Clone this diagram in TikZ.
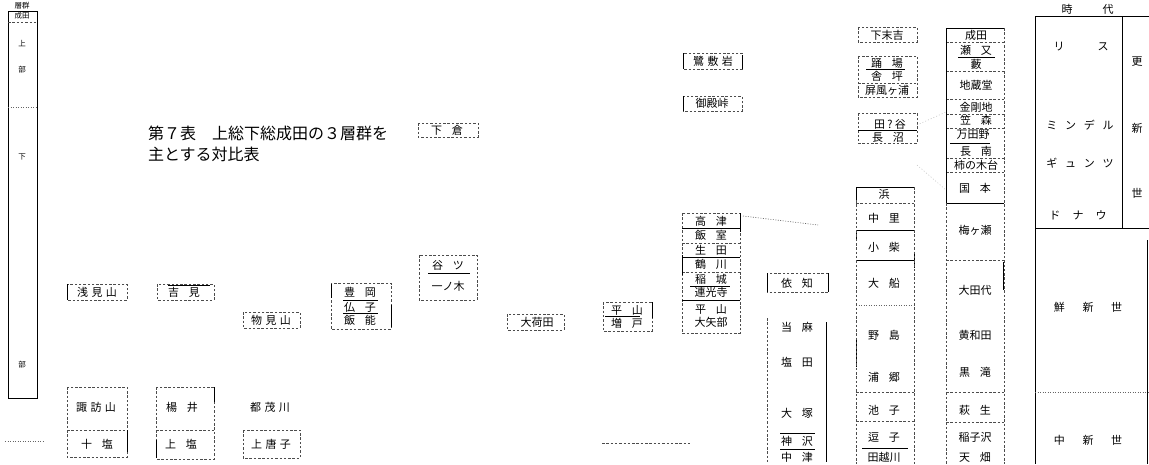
\documentclass[tikz,border=0pt]{standalone}
\usepackage{fontspec}
\setmainfont{Noto Sans CJK JP}
\newcommand{\gp}{\hspace{0.3em}}
\newcommand{\gw}{\hspace{0.9em}}
\tikzset{
  lab/.style={inner sep=0pt, font=\fontsize{11}{13}\selectfont},
  labs/.style={inner sep=0pt, font=\fontsize{7.5}{9}\selectfont},
  ttl/.style={inner sep=0pt, anchor=west, font=\fontsize{16}{19}\selectfont},
  db/.style={draw=black!70, dash pattern=on 2.5pt off 1.8pt, line width=0.6pt},
  dt/.style={draw=black!60, dash pattern=on 1pt off 1.5pt, line width=0.6pt},
  sl/.style={draw=black, line width=0.9pt},
  fnt/.style={draw=black!25, dash pattern=on 1pt off 2pt, line width=0.5pt},
}
\begin{document}
\begin{tikzpicture}[x=1pt,y=-1pt]
\useasboundingbox (0,0) rectangle (1149,464);
\fill[white] (0,0) rectangle (1149,464);
% ---------- left column ----------
\node[labs] (sg) at (22,6) {層群};
\draw[sl] (8,11) rectangle (37,398);
\node[labs] (nt) at (22,16) {成田};
\draw[db] (8,22) -- (37,22);
\node[labs] (u1) at (22,44) {上};
\node[labs] (u2) at (22,70) {部};
\draw[dt] (8,107) -- (37,107);
\node[labs] (l1) at (22,157) {下};
\node[labs] (l2) at (22,365) {部};
\coordinate (lb1) at (5,441); \coordinate (lb2) at (45,441);
\draw[dt] (lb1) -- (lb2);
% ---------- title ----------
\node[ttl] (t1) at (148,133) {第７表　上総下総成田の３層群を};
\node[ttl] (t2) at (148,154) {主とする対比表};
% ---------- column A ----------
\node[lab] (asami) at (97,292) {浅\gp 見\gp 山};
\draw[db] (67,284) rectangle (127,300);
\draw[sl] (67,284) -- (67,300);
\node[lab] (suwa) at (96,407) {諏\gp 訪\gp 山};
\node[lab] (jshio) at (97,444) {十\gw 塩};
\draw[db] (67,387) rectangle (127,457);
\draw[db] (67,430) -- (127,430);
\draw[sl] (127,430) -- (127,452);
% ---------- column B ----------
\node[lab] (yoshimi) at (184,292) {吉\gw 見};
\draw[db] (157,284) rectangle (214,300);
\draw[sl] (168,285) -- (210,285);
\node[lab] (yoi) at (182,407) {楊\gw 井};
\node[lab] (ushio) at (181,444) {上\gw 塩};
\draw[db] (156,387) rectangle (214,459);
\draw[db] (156,430) -- (214,430);
\draw[sl] (214,387) -- (214,402);
\draw[sl] (156,440) -- (156,458);
% ---------- column C ----------
\node[lab] (monomi) at (271,320) {物\gp 見\gp 山};
\draw[db] (243,312) rectangle (300,328);
\node[lab] (tsumo) at (270,407) {都\gp 茂\gp 川};
\node[lab] (karako) at (271,444) {上\gp 唐\gp 子};
\draw[db] (243,430) rectangle (300,458);
% ---------- column D ----------
\node[lab] (toyo) at (360,292) {豊\gw 岡};
\node[lab] (bushi) at (360,307) {仏\gw 子};
\node[lab] (hanno) at (360,320) {飯\gw 能};
\draw[db] (331,283) rectangle (391,329);
\draw[sl] (343,300) -- (378,300);
\draw[sl] (343,313.5) -- (378,313.5);
\draw[sl] (331,284) -- (331,298);
\draw[sl] (391,305) -- (391,327);
% ---------- column E ----------
\node[lab] (shimokura) at (447,130) {下\gw 倉};
\draw[db] (418,123) rectangle (478,137);
\node[lab] (yatsu) at (448,265) {谷\gw ツ};
\node[lab] (ichinoki) at (448,286) {一ノ木};
\draw[db] (419,255) rectangle (477,300);
\draw[sl] (428,273) -- (470,273);
% ---------- column F ----------
\node[lab] (okada) at (537,322) {大荷田};
\draw[db] (507,314) rectangle (564,330);
\node[lab] (hirayama) at (627,310) {平\gw 山};
\node[lab] (masuko) at (627,323) {増\gw 戸};
\draw[db] (603,302) rectangle (652,331);
\draw[sl] (605,316.5) -- (640,316.5);
\draw[sl] (652,302) -- (652,318);
\coordinate (mb1) at (602,443); \coordinate (mb2) at (690,443);
\draw[db] (mb1) -- (mb2);
% ---------- column G ----------
\node[lab] (sagi) at (713,61) {鷺\gp 敷\gp 岩};
\draw[db] (683,53) rectangle (742,69);
\draw[sl] (683,53) -- (683,69); \draw[sl] (742,55) -- (742,69);
\node[lab] (goten) at (712,103) {御殿峠};
\draw[db] (683,96) rectangle (742,111);
\draw[sl] (683,96) -- (683,111);
\node[lab] (g1) at (711,221) {高\gw 津};
\node[lab] (g2) at (711,235.5) {飯\gw 室};
\node[lab] (g3) at (711,250) {生\gw 田};
\node[lab] (g4) at (711,264.5) {鶴\gw 川};
\node[lab] (g5) at (711,279) {稲\gw 城};
\node[lab] (g6) at (711,292.5) {連光寺};
\node[lab] (g7) at (711,309) {平\gw 山};
\node[lab] (g8) at (711,322) {大矢部};
\draw[db] (682,213) rectangle (740,333);
\draw[sl] (682,228.5) -- (740,228.5);
\draw[db] (682,243) -- (740,243);
\draw[sl] (682,257.5) -- (740,257.5);
\draw[db] (682,272) -- (740,272);
\draw[sl] (690,286) -- (730,286);
\draw[sl] (682,300.5) -- (740,300.5);
\draw[sl] (740,213) -- (740,232);
\draw[sl] (682,255) -- (682,275);
\coordinate (gc1) at (743,216); \coordinate (gc2) at (818,225);
\draw[dt] (gc1) -- (gc2);
% ---------- column H ----------
\node[lab] (ichi) at (797,283) {依\gw 知};
\draw[db] (767,273) rectangle (828,292);
\draw[sl] (767,273) -- (767,292); \draw[sl] (828,273) -- (828,292);
\node[lab] (h1) at (797,327) {当\gw 麻};
\node[lab] (h2) at (797,362) {塩\gw 田};
\node[lab] (h3) at (797,413) {大\gw 塚};
\node[lab] (h4) at (797,441) {神\gw 沢};
\node[lab] (h5) at (797,457) {中\gw 津};
\draw[db] (767,318) -- (767,462);
\draw[sl] (826,322) -- (826,462);
\draw[sl] (780,433) -- (815,433);
\draw[sl] (780,449.5) -- (815,449.5);
% ---------- column I ----------
\node[lab] (shimosue) at (887,35) {下末吉};
\draw[db] (858,27) rectangle (917,42);
\node[lab] (i1) at (887,63) {踊\gw 場};
\node[lab] (i2) at (887,76) {舎\gw 坪};
\node[lab] (i3) at (887,90) {屏風ヶ浦};
\draw[db] (858,56) rectangle (917,97);
\draw[sl] (866,69.5) -- (905,69.5);
\draw[db] (858,83) -- (917,83);
\node[lab] (i4) at (890,124) {田\hspace{0.2em}?\hspace{0.2em}谷};
\node[lab] (i5) at (888,137) {長\gw 沼};
\draw[db] (858,113) rectangle (917,143);
\draw[sl] (858,130.5) -- (917,130.5);
\draw[fnt] (917,125) -- (946,112);
\draw[fnt] (917,165) -- (946,190);
\node[lab] (j1) at (884,194) {浜};
\node[lab] (j2) at (884,218) {中\gw 里};
\node[lab] (j3) at (884,247) {小\gw 柴};
\node[lab] (j4) at (884,283) {大\gw 船};
\node[lab] (j5) at (884,335) {野\gw 島};
\node[lab] (j6) at (884,377) {浦\gw 郷};
\node[lab] (j7) at (884,410) {池\gw 子};
\node[lab] (j8) at (884,437) {逗\gw 子};
\node[lab] (j9) at (884,457) {田越川};
\draw[sl] (856,187) -- (914,187);
\draw[sl] (856,187) -- (856,200);
\draw[db] (856,203) -- (914,203);
\draw[sl] (856,230) -- (914,230);
\draw[sl] (856,230) -- (856,240);
\draw[sl] (856,260) -- (914,260);
\draw[sl] (914,252) -- (914,268);
\draw[dt] (856,305) -- (914,305);
\draw[sl] (856,340) -- (856,367);
\draw[db] (856,392) -- (914,392);
\draw[db] (856,421) -- (914,421);
\draw[sl] (862,448) -- (908,448);
\draw[db] (856,200) -- (856,464);
\draw[db] (914,187) -- (914,464);
% ---------- column J ----------
\node[lab] (k1) at (976,35) {成田};
\node[lab] (k2) at (976,50) {瀬\gw 又};
\node[lab] (k3) at (976,64) {藪};
\node[lab] (k4) at (976,85) {地蔵堂};
\node[lab] (k5) at (976,107) {金剛地};
\node[lab] (k6) at (976,120.5) {笠\gw 森};
\node[lab] (k7) at (973,135) {万田野};
\node[lab] (k8) at (976,151) {長\gw 南};
\node[lab] (k9) at (976,165) {柿の木台};
\node[lab] (k10) at (975,188) {国\gw 本};
\node[lab] (k11) at (975,230) {梅ヶ瀬};
\node[lab] (k12) at (975,290) {大田代};
\node[lab] (k13) at (975,335) {黄和田};
\node[lab] (k14) at (975,372) {黒\gw 滝};
\node[lab] (k15) at (975,410) {萩\gw 生};
\node[lab] (k16) at (975,437) {稲子沢};
\node[lab] (k17) at (975,457) {天\gw 畑};
\draw[sl] (946,28) -- (1004,28);
\draw[db] (946,42) -- (1004,42);
\draw[sl] (958,57) -- (995,57);
\draw[db] (946,71) -- (1004,71);
\draw[db] (946,99) -- (1004,99);
\draw[db] (946,114) -- (1004,114);
\draw[db] (946,128) -- (1004,128);
\draw[sl] (950,143) -- (990,143);
\draw[db] (946,158) -- (1004,158);
\draw[db] (946,172) -- (1004,172);
\draw[sl] (946,203) -- (1004,203);
\draw[db] (946,260) -- (1004,260);
\draw[db] (946,392) -- (1004,392);
\draw[db] (946,422) -- (1004,422);
\draw[sl] (946,28) -- (946,203);
\draw[db] (946,203) -- (946,464);
\draw[db] (1004,28) -- (1004,464);
\draw[sl] (1003,262) -- (1003,290);
% ---------- period column ----------
\node[lab] (ji) at (1067,9) {時};
\node[lab] (dai) at (1108,9) {代};
\draw[sl] (1035,16) -- (1149,16);
\draw[sl] (1035,16) -- (1035,464);
\draw[sl] (1122,16) -- (1122,228);
\draw[sl] (1035,228) -- (1149,228);
\node[lab] (p1) at (1081,47) {リ\hspace{3em}ス};
\node[lab] (p2) at (1080,125) {ミ\hspace{0.7em}ン\hspace{0.7em}デ\hspace{0.7em}ル};
\node[lab] (p3) at (1080,163) {ギ\hspace{0.7em}ュ\hspace{0.7em}ン\hspace{0.7em}ツ};
\node[lab] (p4) at (1078,215) {ド\hspace{1.1em}ナ\hspace{1.1em}ウ};
\node[lab] (q1) at (1137,62) {更};
\node[lab] (q2) at (1137,128) {新};
\node[lab] (q3) at (1137,193) {世};
\node[lab] (r1) at (1088,307) {鮮\hspace{1.6em}新\hspace{1.6em}世};
\draw[dt] (1035,392) -- (1149,392);
\node[lab] (r2) at (1088,440) {中\hspace{1.6em}新\hspace{1.6em}世};
\draw[sl] (1147,240) -- (1147,464);
\end{tikzpicture}
\end{document}
